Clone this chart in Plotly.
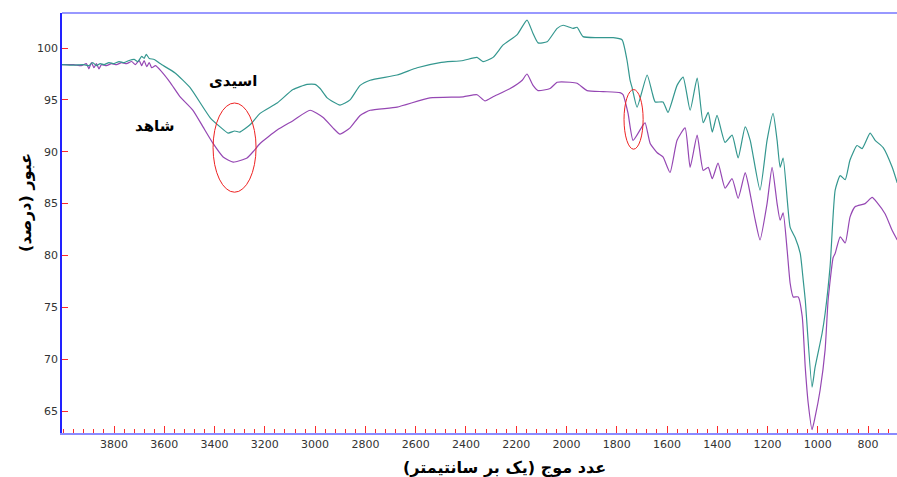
import plotly.graph_objects as go

# Wavenumbers (cm-1) and transmittance (%)
acid_wn = [4007, 3960, 3920, 3900, 3885, 3870, 3855, 3840, 3820, 3800, 3780, 3760, 3740, 3720, 3705,
           3690, 3680, 3672, 3660, 3640, 3617, 3557, 3498, 3418, 3378, 3346, 3320, 3299, 3259, 3219,
           3151, 3088, 3032, 3000, 2980, 2952, 2901, 2861, 2821, 2781, 2674, 2594, 2503, 2411, 2356,
           2332, 2292, 2252, 2196, 2157, 2133, 2113, 2077, 2037, 2013, 1974, 1958, 1934, 1878, 1814,
           1779, 1759, 1747, 1739, 1719, 1679, 1659, 1647, 1616, 1596, 1560, 1536, 1508, 1480, 1456,
           1436, 1420, 1401, 1369, 1341, 1317, 1289, 1269, 1230, 1202, 1178, 1162, 1150, 1138, 1110,
           1090, 1070, 1058, 1050, 1023, 1011, 983, 971, 951, 931, 911, 891, 872, 844, 824,
           792, 772, 740, 704, 684]
acid_t = [98.4, 98.35, 98.4, 98.3, 98.6, 98.3, 98.5, 98.4, 98.6, 98.5, 98.7, 98.6, 98.8, 98.9, 98.7,
          99.2, 99.0, 99.4, 99.0, 98.9, 98.5, 97.6, 96.2, 93.3, 92.4, 91.8, 92.0, 91.9, 92.6, 93.7,
          94.7, 96.0, 96.5, 96.5, 96.1, 95.2, 94.5, 95.0, 96.4, 96.9, 97.4, 98.1, 98.6, 98.8, 99.1,
          98.7, 99.1, 100.3, 101.3, 102.7, 101.4, 100.5, 100.6, 101.9, 102.2, 101.9, 102.0, 101.1, 101.0, 101.0,
          100.8, 98.8, 96.9, 96.2, 94.3, 97.4, 95.7, 94.8, 94.8, 93.8, 96.4, 97.2, 94.0, 97.1, 92.8,
          93.8, 91.9, 93.5, 90.9, 91.6, 89.4, 92.4, 91.1, 86.3, 91.1, 93.7, 91.1, 88.5, 89.4, 82.7,
          81.7, 80.2, 77.6, 75.7, 67.3, 69.2, 72.5, 74.4, 79.0, 86.3, 87.7, 87.3, 89.2, 90.6, 90.3,
          91.8, 91.1, 90.4, 88.5, 87.0]

blank_wn = [4007, 3960, 3930, 3910, 3900, 3890, 3880, 3870, 3860, 3850, 3830, 3810, 3790, 3770, 3750,
            3730, 3715, 3700, 3690, 3680, 3670, 3660, 3650, 3635, 3617, 3577, 3537, 3486, 3446, 3406,
            3366, 3326, 3271, 3247, 3219, 3151, 3088, 3020, 2968, 2929, 2901, 2861, 2821, 2781, 2674,
            2543, 2411, 2356, 2324, 2292, 2224, 2176, 2157, 2133, 2113, 2065, 2037, 1986, 1958, 1918,
            1854, 1787, 1775, 1755, 1735, 1695, 1687, 1667, 1639, 1616, 1588, 1560, 1528, 1508, 1480,
            1456, 1436, 1420, 1397, 1369, 1341, 1317, 1289, 1277, 1249, 1230, 1202, 1182, 1162, 1150,
            1138, 1122, 1110, 1098, 1078, 1062, 1050, 1038, 1023, 1011, 991, 971, 959, 939, 931,
            911, 891, 872, 852, 812, 784, 764, 732, 704, 684]
blank_t = [98.4, 98.4, 98.3, 98.5, 98.0, 98.6, 98.1, 98.5, 98.0, 98.4, 98.3, 98.5, 98.4, 98.6, 98.5,
           98.7, 98.4, 98.8, 98.3, 98.8, 98.2, 98.6, 98.1, 98.3, 97.9, 96.7, 95.3, 94.0, 92.4, 90.8,
           89.5, 89.0, 89.4, 90.0, 90.8, 92.1, 93.0, 94.0, 93.3, 92.3, 91.7, 92.3, 93.5, 94.0, 94.3,
           95.2, 95.3, 95.5, 94.9, 95.3, 96.1, 96.9, 97.5, 96.4, 95.9, 96.1, 96.7, 96.7, 96.6, 95.9,
           95.8, 95.7, 95.5, 93.7, 91.1, 92.6, 92.8, 90.8, 89.9, 89.5, 88.0, 91.1, 92.3, 88.5, 91.6,
           88.2, 88.5, 87.4, 88.9, 86.5, 87.4, 85.5, 88.0, 86.9, 83.4, 81.5, 85.0, 88.5, 85.0, 83.4,
           84.1, 80.5, 77.3, 76.0, 76.0, 74.1, 69.2, 65.7, 63.2, 64.4, 67.0, 70.9, 75.7, 79.8, 80.2,
           81.8, 81.2, 83.7, 84.7, 85.0, 85.6, 85.1, 84.0, 82.4, 81.5]

label_acid = "اسیدی"
label_blank = "شاهد"
x_title = "عدد موج (یک بر سانتیمتر)"
y_title = "عبور (درصد)"

# Highlighted regions (ellipses) in data units: x0, x1, y0, y1
ellipse_oh = [3406, 3235, 86.1, 94.7]
ellipse_co = [1771, 1695, 90.25, 96.0]

fig = go.Figure()
fig.add_trace(go.Scatter(x=blank_wn, y=blank_t, mode="lines",
                         line=dict(color="#9547b3", width=1.2, shape="spline", smoothing=0.5),
                         showlegend=False))
fig.add_trace(go.Scatter(x=acid_wn, y=acid_t, mode="lines",
                         line=dict(color="#34978f", width=1.2, shape="spline", smoothing=0.5),
                         showlegend=False))

for e in (ellipse_oh, ellipse_co):
    fig.add_shape(type="circle", xref="x", yref="y", x0=e[0], x1=e[1], y0=e[2], y1=e[3],
                  line=dict(color="#ee2222", width=1))

fig.add_annotation(x=3325, y=96.8, xref="x", yref="y", text="<b>" + label_acid + "</b>",
                   showarrow=False, font=dict(family="DejaVu Sans", size=15, color="black"))
fig.add_annotation(x=3640, y=92.5, xref="x", yref="y", text="<b>" + label_blank + "</b>",
                   showarrow=False, font=dict(family="DejaVu Sans", size=15, color="black"))
fig.add_annotation(x=-0.057, y=0.55, xref="paper", yref="paper", text="<b>" + y_title + "</b>",
                   textangle=-90, showarrow=False,
                   font=dict(family="DejaVu Sans", size=16, color="black"))
fig.add_annotation(x=0.53, y=-0.081, xref="paper", yref="paper", text="<b>" + x_title + "</b>",
                   showarrow=False, yanchor="middle",
                   font=dict(family="DejaVu Sans", size=16, color="black"))

fig.update_layout(
    width=897, height=477,
    margin=dict(l=62, r=0, t=13, b=44),
    paper_bgcolor="white", plot_bgcolor="white",
    xaxis=dict(range=[4007, 685], tickvals=list(range(3800, 700, -200)),
               showgrid=False, zeroline=False,
               showline=True, linecolor="#8a8aff", linewidth=2, mirror=False,
               ticks="inside", ticklen=7, tickcolor="#ff2a2a", tickwidth=1,
               minor=dict(dtick=40, tick0=3800, ticks="inside", ticklen=4,
                          tickcolor="#ff2a2a", tickwidth=1, showgrid=False),
               tickfont=dict(family="DejaVu Sans", size=11, color="#333333")),
    yaxis=dict(range=[62.88, 103.38], tickvals=[65, 70, 75, 80, 85, 90, 95, 100],
               showgrid=False, zeroline=False,
               showline=True, linecolor="#2222ff", linewidth=1.5,
               ticks="inside", ticklen=6, tickcolor="#ff2a2a", tickwidth=1,
               tickfont=dict(family="DejaVu Sans", size=11, color="#333333")),
)
fig.add_shape(type="line", xref="paper", yref="paper", x0=0, x1=1, y0=1, y1=1,
              line=dict(color="#3333ff", width=1.2))

fig.write_html("out.html", config={"displayModeBar": False},
               post_script="document.body.style.margin='0';")
